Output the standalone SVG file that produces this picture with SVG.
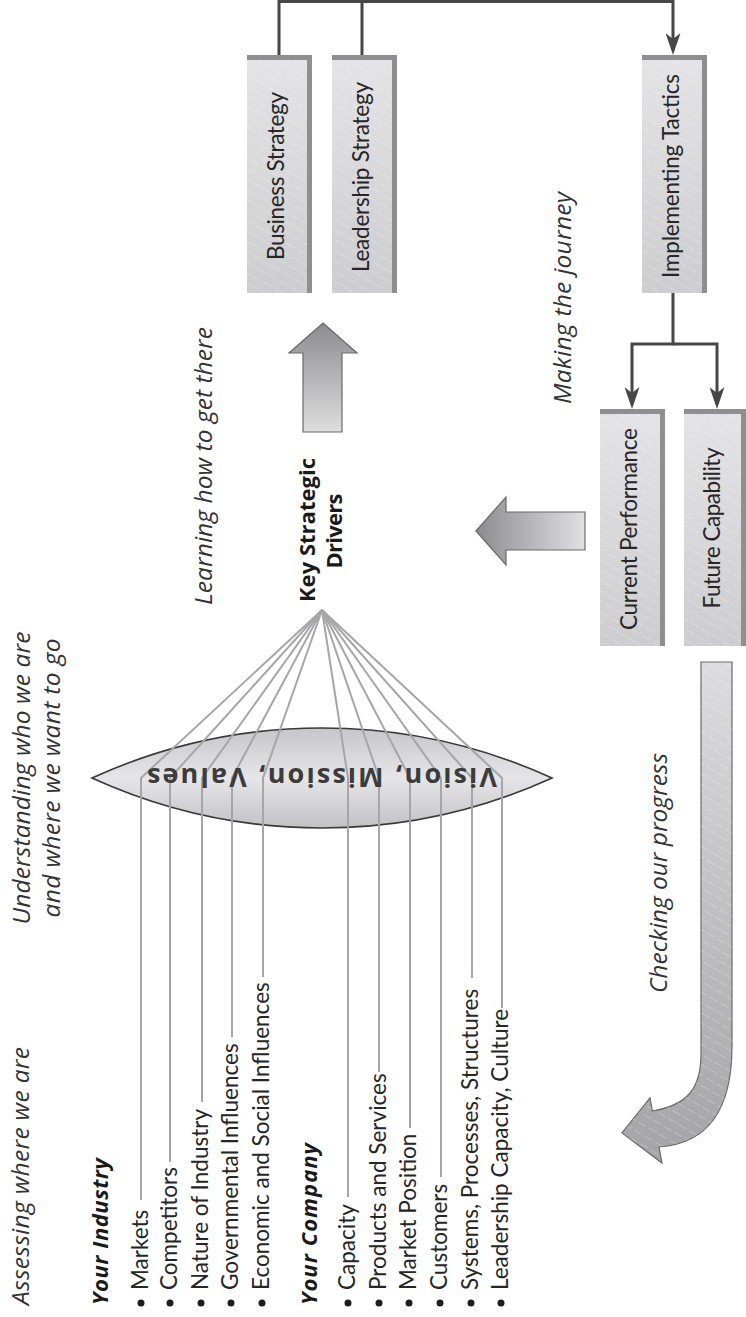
<svg xmlns="http://www.w3.org/2000/svg" width="746" height="1317" viewBox="0 0 746 1317">
  <defs>
    <style>
      .txt { font-family: Lato, "Open Sans", "Liberation Sans", sans-serif; fill: #262626; }
      .os { font-family: "Open Sans", "Liberation Sans", sans-serif; }
      .lbl { font-size: 22.5px; }
      .box-label { font-size: 22.5px; text-anchor: middle; }
      .note { font-size: 24.5px; font-style: italic; fill: #333333; }
      .head { font-size: 22px; font-weight: 700; font-style: italic; fill: #1a1a1a; }
      .key { font-size: 22px; font-weight: 700; text-anchor: middle; fill: #1a1a1a; }
      .vmv { font-size: 27px; font-weight: 700; text-anchor: middle; fill: #3c3c3c; }
      .box { fill: url(#boxFill); }
      .hatch { fill: url(#hatch); }
      .edge { fill: #8f8f91; }
      .conn { fill: none; stroke: #474747; stroke-width: 3; }
      .fan { fill: none; stroke: #a6a6a8; stroke-width: 2; }
      .bullet { fill: #1e1e1e; }
      .block-arrow { stroke: #6a6a6c; stroke-width: 1.2; }
    </style>
    <linearGradient id="boxFill" x1="0" y1="0" x2="0" y2="1">
      <stop offset="0" stop-color="#e4e4e6"/>
      <stop offset="1" stop-color="#cdcdcf"/>
    </linearGradient>
    <pattern id="hatch" patternUnits="userSpaceOnUse" width="12" height="9" patternTransform="rotate(30)">
      <line x1="0" y1="4.5" x2="12" y2="4.5" stroke="#ffffff" stroke-opacity="0.35" stroke-width="0.7" stroke-dasharray="7 3"/>
    </pattern>
    <linearGradient id="lensFill" x1="0" y1="0" x2="0" y2="1">
      <stop offset="0" stop-color="#c6c6c8"/>
      <stop offset="0.5" stop-color="#e6e6e8"/>
      <stop offset="1" stop-color="#c2c2c4"/>
    </linearGradient>
    <linearGradient id="upFill" x1="0" y1="0" x2="0" y2="1">
      <stop offset="0" stop-color="#8c8c8e"/>
      <stop offset="1" stop-color="#dededf"/>
    </linearGradient>
    <linearGradient id="leftFill" x1="0" y1="0" x2="1" y2="0">
      <stop offset="0" stop-color="#8c8c8e"/>
      <stop offset="1" stop-color="#e0e0e2"/>
    </linearGradient>
    <linearGradient id="loopFill" x1="0" y1="0" x2="0" y2="1">
      <stop offset="0" stop-color="#dcdcde"/>
      <stop offset="1" stop-color="#a4a4a6"/>
    </linearGradient>
    <marker id="head" viewBox="0 0 22 15" refX="17" refY="7.5" markerWidth="22" markerHeight="15" markerUnits="userSpaceOnUse" orient="auto">
      <path d="M0,0 L22,7.5 L0,15 L6,7.5 Z" fill="#474747"/>
    </marker>
  </defs>

  <rect width="746" height="1317" fill="#ffffff"/>

  <!-- side captions -->
  <g id="captions" class="txt os note">
    <text transform="translate(29,1305) rotate(-90)" textLength="258" lengthAdjust="spacing">Assessing where we are</text>
    <text transform="translate(29.5,778) rotate(-90)" text-anchor="middle" textLength="293" lengthAdjust="spacing">Understanding who we are</text>
    <text transform="translate(59.5,778) rotate(-90)" text-anchor="middle" textLength="279" lengthAdjust="spacing">and where we want to go</text>
    <text transform="translate(212,466) rotate(-90)" text-anchor="middle" textLength="278" lengthAdjust="spacing">Learning how to get there</text>
    <text transform="translate(571,298) rotate(-90)" text-anchor="middle" textLength="212" lengthAdjust="spacing">Making the journey</text>
    <text transform="translate(667,873) rotate(-90)" text-anchor="middle" textLength="240" lengthAdjust="spacing">Checking our progress</text>
  </g>

  <!-- lens: vision, mission, values -->
  <g id="vision-mission-values">
    <path d="M92,778 A554,554 0 0 1 552,778 A554,554 0 0 1 92,778 Z" fill="url(#lensFill)" stroke="#3a3a3a" stroke-width="1.6"/>
  </g>

  <!-- fan of factor lines into the key strategic drivers -->
  <g id="factor-lines" class="fan">
    <path d="M322,610 L141,778 V1200"/>
    <path d="M322,610 L170,778 V1162"/>
    <path d="M322,610 L202,778 V1102"/>
    <path d="M322,610 L232,778 V1037"/>
    <path d="M322,610 L263,778 V977"/>
    <path d="M322,610 L348,778 V1197"/>
    <path d="M322,610 L379,778 V1072"/>
    <path d="M322,610 L410,778 V1128"/>
    <path d="M322,610 L441,778 V1177"/>
    <path d="M322,610 L472,778 V978"/>
    <path d="M322,610 L502,778 V1008"/>
  </g>

  <g id="vision-label">
    <text class="txt os vmv" x="322" y="788" transform="rotate(180 322 778)" textLength="350" lengthAdjust="spacing">Vision, Mission, Values</text>
  </g>

  <!-- industry factors -->
  <g id="your-industry" class="txt">
    <text class="os head" transform="translate(108,1305) rotate(-90)" textLength="147" lengthAdjust="spacing">Your Industry</text>
    <circle class="bullet" cx="141" cy="1303" r="3.5"/>
    <text class="lbl" transform="translate(148,1290) rotate(-90)">Markets</text>
    <circle class="bullet" cx="170" cy="1303" r="3.5"/>
    <text class="lbl" transform="translate(177,1290) rotate(-90)">Competitors</text>
    <circle class="bullet" cx="201" cy="1303" r="3.5"/>
    <text class="lbl" transform="translate(208,1290) rotate(-90)">Nature of Industry</text>
    <circle class="bullet" cx="231" cy="1303" r="3.5"/>
    <text class="lbl" transform="translate(238,1290) rotate(-90)">Governmental Influences</text>
    <circle class="bullet" cx="262" cy="1303" r="3.5"/>
    <text class="lbl" transform="translate(269,1290) rotate(-90)">Economic and Social Influences</text>
  </g>

  <!-- company factors -->
  <g id="your-company" class="txt">
    <text class="os head" transform="translate(317,1305) rotate(-90)" textLength="162" lengthAdjust="spacing">Your Company</text>
    <circle class="bullet" cx="348" cy="1303" r="3.5"/>
    <text class="lbl" transform="translate(355,1290) rotate(-90)">Capacity</text>
    <circle class="bullet" cx="379" cy="1303" r="3.5"/>
    <text class="lbl" transform="translate(386,1290) rotate(-90)">Products and Services</text>
    <circle class="bullet" cx="409" cy="1303" r="3.5"/>
    <text class="lbl" transform="translate(416,1290) rotate(-90)">Market Position</text>
    <circle class="bullet" cx="440" cy="1303" r="3.5"/>
    <text class="lbl" transform="translate(447,1290) rotate(-90)">Customers</text>
    <circle class="bullet" cx="471" cy="1303" r="3.5"/>
    <text class="lbl" transform="translate(478,1290) rotate(-90)">Systems, Processes, Structures</text>
    <circle class="bullet" cx="501" cy="1303" r="3.5"/>
    <text class="lbl" transform="translate(508,1290) rotate(-90)">Leadership Capacity, Culture</text>
  </g>

  <!-- key strategic drivers -->
  <g id="key-strategic-drivers" class="txt os">
    <text class="key" transform="translate(315,530) rotate(-90)" textLength="144" lengthAdjust="spacing">Key Strategic</text>
    <text class="key" transform="translate(342,531) rotate(-90)" textLength="75" lengthAdjust="spacing">Drivers</text>
  </g>

  <!-- block arrows -->
  <g id="arrow-up">
    <path class="block-arrow" d="M323,323 L357,353 L342,353 L342,432 L303,432 L303,353 L289,353 Z" fill="url(#upFill)"/>
  </g>
  <g id="arrow-left">
    <path class="block-arrow" d="M476,531 L506,497 L506,512 L585,512 L585,550 L506,550 L506,565 Z" fill="url(#leftFill)"/>
  </g>
  <g id="arrow-loop">
    <path class="block-arrow" d="M701,662 L732,662 L732,1046 C732,1118 702,1144 659,1147 L662,1163 L622,1133 L650,1098 L652.4,1111 C688,1105 701,1088 701,1054 Z" fill="url(#loopFill)"/>
    <path d="M701,662 L732,662 L732,1046 C732,1118 702,1144 659,1147 L662,1163 L622,1133 L650,1098 L652.4,1111 C688,1105 701,1088 701,1054 Z" class="hatch"/>
  </g>

  <!-- strategy boxes -->
  <g id="business-strategy">
    <rect class="box" x="247" y="55" width="65" height="238"/>
    <rect class="hatch" x="247" y="55" width="65" height="238"/>
    <rect class="edge" x="247" y="55" width="65" height="5"/>
    <rect class="edge" x="307" y="55" width="5" height="238"/>
    <text class="txt box-label" transform="translate(284,176) rotate(-90)" textLength="168" lengthAdjust="spacing">Business Strategy</text>
  </g>
  <g id="leadership-strategy">
    <rect class="box" x="332" y="55" width="65" height="238"/>
    <rect class="hatch" x="332" y="55" width="65" height="238"/>
    <rect class="edge" x="332" y="55" width="65" height="5"/>
    <rect class="edge" x="392" y="55" width="5" height="238"/>
    <text class="txt box-label" transform="translate(369,177) rotate(-90)" textLength="190" lengthAdjust="spacing">Leadership Strategy</text>
  </g>
  <g id="implementing-tactics">
    <rect class="box" x="642" y="55" width="65" height="238"/>
    <rect class="hatch" x="642" y="55" width="65" height="238"/>
    <rect class="edge" x="642" y="55" width="65" height="5"/>
    <rect class="edge" x="702" y="55" width="5" height="238"/>
    <text class="txt box-label" transform="translate(679,176) rotate(-90)" textLength="204" lengthAdjust="spacing">Implementing Tactics</text>
  </g>
  <g id="current-performance">
    <rect class="box" x="600" y="409" width="65" height="237"/>
    <rect class="hatch" x="600" y="409" width="65" height="237"/>
    <rect class="edge" x="600" y="409" width="65" height="5"/>
    <rect class="edge" x="660" y="409" width="5" height="237"/>
    <text class="txt box-label" transform="translate(637,529) rotate(-90)" textLength="202" lengthAdjust="spacing">Current Performance</text>
  </g>
  <g id="future-capability">
    <rect class="box" x="684" y="409" width="62" height="237"/>
    <rect class="hatch" x="684" y="409" width="62" height="237"/>
    <rect class="edge" x="684" y="409" width="62" height="5"/>
    <rect class="edge" x="741" y="409" width="5" height="237"/>
    <text class="txt box-label" transform="translate(720,528) rotate(-90)" textLength="161" lengthAdjust="spacing">Future Capability</text>
  </g>

  <!-- connectors -->
  <g id="connectors" class="conn">
    <path d="M279,55 V1.5 H673 V50" marker-end="url(#head)"/>
    <path d="M362,55 V1.5"/>
    <path d="M673,293 V344 H632 V404" marker-end="url(#head)"/>
    <path d="M673,344 H717 V404" marker-end="url(#head)"/>
  </g>
</svg>
